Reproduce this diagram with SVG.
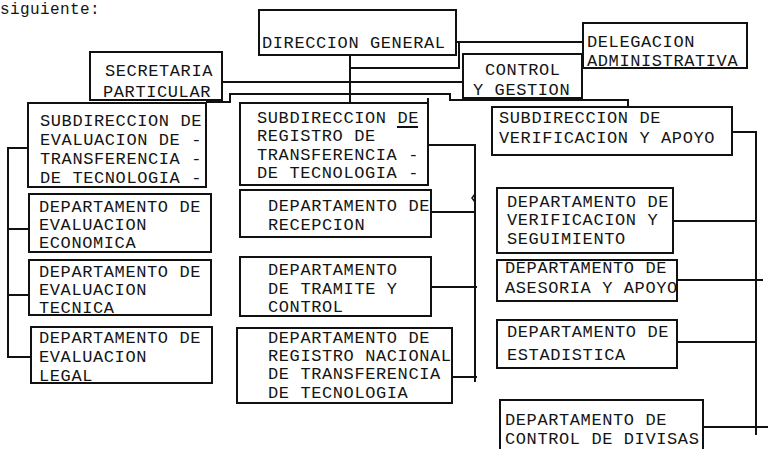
<svg xmlns="http://www.w3.org/2000/svg" width="768" height="449" viewBox="0 0 768 449">
<style>
.b{fill:#fff;stroke:#111;stroke-width:2}
.t{font-family:"Liberation Mono","DejaVu Sans Mono",monospace;font-size:17px;letter-spacing:0.6px;fill:#141414}
.c{fill:none;stroke:#111;stroke-width:2}
</style>
<rect width="768" height="449" fill="#fff"/>
<text class="t" x="0" y="14" style="font-size:16px;letter-spacing:0.4px">siguiente:</text>
<g id="connectors">
<path class="c" d="M456,42 H583"/>
<path class="c" d="M459,42 V68 H350"/>
<path class="c" d="M350,55 V103"/>
<path class="c" d="M222,82 H463"/>
<path class="c" d="M206,102 H230 V94 H450 V100 H628 V107"/>
<path class="c" d="M428,98 V103"/>
<path class="c" d="M28,148 H8 V357 H31 M8,229 H29 M8,295 H29"/>
<path class="c" d="M428,145 H475 V382 M431,212 H475 M431,287 H477 M452,377 H477"/>
<path class="c" d="M475,194 L472,198 L475,202" style="stroke-width:1.5"/>
<path class="c" d="M732,132 H756 V435 M673,221 H756 M677,280 H763 M677,342 H756 M703,427 H768"/>
</g>
<g id="direccion-general"><rect class="b" x="259" y="10" width="197" height="45"/><text class="t" x="262" y="48">DIRECCION GENERAL</text></g>
<g id="delegacion"><rect class="b" x="583" y="23" width="164" height="45"/><text class="t" x="587" y="47">DELEGACION</text><text class="t" x="587" y="66">ADMINISTRATIVA</text></g>
<g id="secretaria"><rect class="b" x="90" y="52" width="132" height="48"/><text class="t" x="105" y="76">SECRETARIA</text><text class="t" x="103" y="97">PARTICULAR</text></g>
<g id="control"><rect class="b" x="463" y="54" width="119" height="44"/><text class="t" x="485" y="75">CONTROL</text><text class="t" x="473" y="95">Y GESTION</text></g>
<g id="sub-evaluacion"><rect class="b" x="28" y="103" width="178" height="84"/><text class="t" x="40" y="126">SUBDIRECCION DE</text><text class="t" x="40" y="145">EVALUACION DE -</text><text class="t" x="40" y="164">TRANSFERENCIA -</text><text class="t" x="40" y="183">DE TECNOLOGIA -</text></g>
<g id="sub-registro"><rect class="b" x="240" y="103" width="188" height="82"/><text class="t" x="257" y="123">SUBDIRECCION DE</text><path class="c" d="M397,127 H418"/><text class="t" x="257" y="141">REGISTRO DE</text><text class="t" x="257" y="160">TRANSFERENCIA -</text><text class="t" x="257" y="178">DE TECNOLOGIA -</text></g>
<g id="sub-verificacion"><rect class="b" x="492" y="107" width="240" height="48"/><text class="t" x="499" y="123">SUBDIRECCION DE</text><text class="t" x="499" y="143">VERIFICACION Y APOYO</text></g>
<g id="dep-economica"><rect class="b" x="29" y="194" width="182" height="58"/><text class="t" x="39" y="212">DEPARTAMENTO DE</text><text class="t" x="39" y="230">EVALUACION</text><text class="t" x="39" y="248">ECONOMICA</text></g>
<g id="dep-tecnica"><rect class="b" x="29" y="260" width="182" height="55"/><text class="t" x="39" y="277">DEPARTAMENTO DE</text><text class="t" x="39" y="295">EVALUACION</text><text class="t" x="39" y="313">TECNICA</text></g>
<g id="dep-legal"><rect class="b" x="31" y="327" width="181" height="56"/><text class="t" x="39" y="343">DEPARTAMENTO DE</text><text class="t" x="39" y="362">EVALUACION</text><text class="t" x="39" y="381">LEGAL</text></g>
<g id="dep-recepcion"><rect class="b" x="240" y="190" width="191" height="47"/><text class="t" x="268" y="211">DEPARTAMENTO DE</text><text class="t" x="268" y="230">RECEPCION</text></g>
<g id="dep-tramite"><rect class="b" x="240" y="257" width="191" height="59"/><text class="t" x="268" y="275">DEPARTAMENTO</text><text class="t" x="268" y="294">DE TRAMITE Y</text><text class="t" x="268" y="312">CONTROL</text></g>
<g id="dep-registro"><rect class="b" x="237" y="328" width="215" height="75"/><text class="t" x="268" y="343">DEPARTAMENTO DE</text><text class="t" x="268" y="361">REGISTRO NACIONAL</text><text class="t" x="268" y="379">DE TRANSFERENCIA</text><text class="t" x="268" y="398">DE TECNOLOGIA</text></g>
<g id="dep-verificacion"><rect class="b" x="497" y="188" width="176" height="65"/><text class="t" x="507" y="207">DEPARTAMENTO DE</text><text class="t" x="507" y="225">VERIFICACION Y</text><text class="t" x="507" y="244">SEGUIMIENTO</text></g>
<g id="dep-asesoria"><rect class="b" x="497" y="260" width="180" height="41"/><text class="t" x="505" y="273">DEPARTAMENTO DE</text><text class="t" x="505" y="293">ASESORIA Y APOYO</text></g>
<g id="dep-estadistica"><rect class="b" x="497" y="320" width="180" height="48"/><text class="t" x="507" y="337">DEPARTAMENTO DE</text><text class="t" x="507" y="360">ESTADISTICA</text></g>
<g id="dep-divisas"><rect class="b" x="500" y="400" width="203" height="60"/><text class="t" x="505" y="425">DEPARTAMENTO DE</text><text class="t" x="505" y="444">CONTROL DE DIVISAS</text></g>
</svg>
